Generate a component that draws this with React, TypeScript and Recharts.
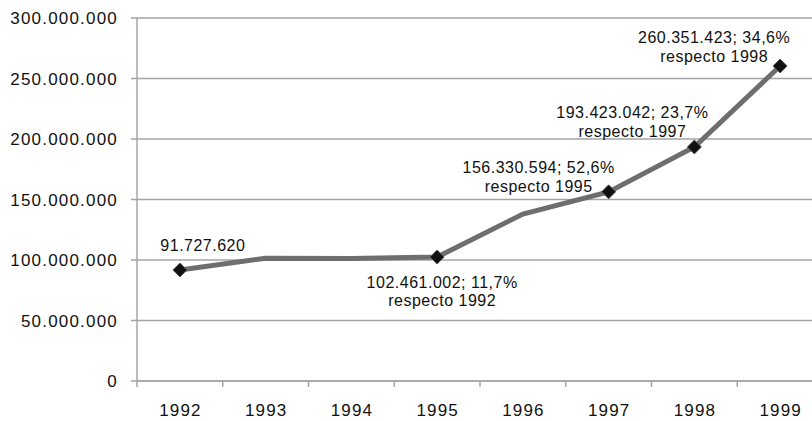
import React from "react";
import { LineChart, Line, XAxis, YAxis, CartesianGrid } from "recharts";

const years = ["1992", "1993", "1994", "1995", "1996", "1997", "1998", "1999"];
const visitors = [91727620, 101500000, 101300000, 102461002, 138000000, 156330594, 193423042, 260351423];
const noteValues = ["91.727.620", "", "", "102.461.002; 11,7%", "", "156.330.594; 52,6%", "193.423.042; 23,7%", "260.351.423; 34,6%"];
const noteRefs = ["", "", "", "respecto 1992", "", "respecto 1995", "respecto 1997", "respecto 1998"];
const yTicks = [0, 50000000, 100000000, 150000000, 200000000, 250000000, 300000000];

const data = years.map((year, i) => ({ year, value: visitors[i] }));

const CHART_W = 830;
const CHART_H = 421;
const LEFT = 137;
const RIGHT = 7;
const BAND = (CHART_W - LEFT - RIGHT) / years.length;
const GRID = "#a4a4a4";
const FONT = "'Liberation Sans', Arial, sans-serif";

// label offsets relative to the point: [dx, dy first line, dy second line]
const noteOffsets: Record<number, [number, number, number]> = {
  0: [23, -25, 0],
  3: [5, 25, 43],
  5: [-70, -24, -5],
  6: [-62, -34, -15],
  7: [-66, -28, -9],
};

const fmt = (v: number) => String(v).replace(/\B(?=(\d{3})+(?!\d))/g, ".");

const Marker = (props: any) => {
  const { cx, cy, index } = props;
  if (!noteValues[index]) return <g key={`d-${index}`} />;
  const [dx, dy1, dy2] = noteOffsets[index];
  const s = 7;
  const textProps = {
    textAnchor: "middle" as const,
    dominantBaseline: "central" as const,
    fontSize: 16,
    fontFamily: FONT,
    letterSpacing: 0.5,
    fill: "#111",
  };
  return (
    <g key={`d-${index}`}>
      <path
        d={`M${cx},${cy - s} L${cx + s},${cy} L${cx},${cy + s} L${cx - s},${cy} Z`}
        fill="#111"
        stroke="#555"
        strokeWidth={1}
      />
      <text x={cx + dx} y={cy + dy1} {...textProps}>
        {noteValues[index]}
      </text>
      {noteRefs[index] && (
        <text x={cx + dx} y={cy + dy2} {...textProps}>
          {noteRefs[index]}
        </text>
      )}
    </g>
  );
};

const YearTick = (props: any) => {
  const { x, payload } = props;
  const bx = x - BAND / 2;
  const axisY = CHART_H - 40;
  return (
    <g>
      <line x1={bx} x2={bx} y1={axisY} y2={axisY + 6} stroke={GRID} strokeWidth={1.5} />
      <text
        x={x + 0.6}
        y={axisY + 29}
        textAnchor="middle"
        dominantBaseline="central"
        fontSize={17}
        letterSpacing={1.2}
        fontFamily={FONT}
        fill="#111"
      >
        {payload.value}
      </text>
    </g>
  );
};

export default function App() {
  return (
    <div style={{ position: "fixed", left: 0, top: 0, width: 812, height: 421, overflow: "hidden", background: "#fff" }}>
      <LineChart width={CHART_W} height={CHART_H} data={data} margin={{ top: 18, right: RIGHT, left: 0, bottom: 0 }}>
        <CartesianGrid vertical={false} stroke={GRID} strokeWidth={1.5} />
        <XAxis
          dataKey="year"
          height={40}
          padding={{ left: BAND / 2, right: BAND / 2 }}
          axisLine={{ stroke: GRID, strokeWidth: 1.5 }}
          tickLine={false}
          tick={<YearTick />}
          interval={0}
        />
        <YAxis
          width={LEFT}
          domain={[0, 300000000]}
          ticks={yTicks}
          tickFormatter={fmt}
          axisLine={{ stroke: GRID, strokeWidth: 1.5 }}
          tickLine={{ stroke: GRID, strokeWidth: 1.5 }}
          tickSize={6}
          tickMargin={13}
          tick={{ fill: "#111", fontSize: 17, fontFamily: FONT, letterSpacing: 1.2 }}
        />
        <Line
          type="linear"
          dataKey="value"
          stroke="#6e6e6e"
          strokeWidth={5}
          dot={<Marker />}
          activeDot={false}
          isAnimationActive={false}
        />
      </LineChart>
    </div>
  );
}
